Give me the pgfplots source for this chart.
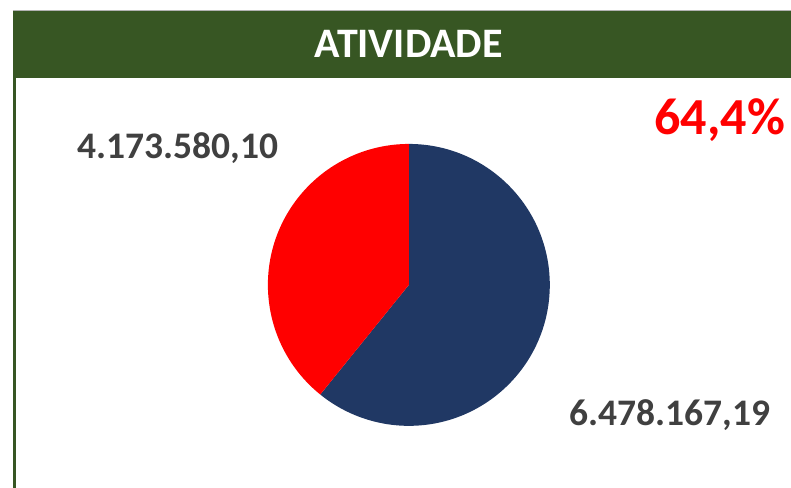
\documentclass[border=0pt]{standalone}
\usepackage{pgfplots}
\pgfplotsset{compat=1.18}
\usepackage{pgfplotstable}
\usepackage{fontspec}
\setmainfont{Carlito}

\definecolor{hdrgreen}{HTML}{375623}
\definecolor{navy}{HTML}{203864}
\definecolor{labgray}{HTML}{404040}

% Values of the two slices
\pgfplotstableread[col sep=comma]{
label,value
Outros,4173580.10
Atividade,6478167.19
}\piedata

\pgfplotstablegetelem{0}{value}\of\piedata \edef\redval{\pgfplotsretval}
\pgfplotstablegetelem{1}{value}\of\piedata \edef\navyval{\pgfplotsretval}
\edef\navyang{\fpeval{360*\navyval/(\navyval+\redval)}}
\edef\navyend{\fpeval{90-\navyang}}

\begin{document}
\begin{tikzpicture}[x=1pt,y=1pt]
  % canvas
  \fill[white] (0,0) rectangle (791,488);
  % header band
  \fill[hdrgreen] (13,410) rectangle (791,478);
  \draw[gray!60,line width=0.6pt] (13,478) -- (791,478);
  % left border
  \fill[hdrgreen] (13,0) rectangle (16,410);
  \node[text=white,font=\bfseries\fontsize{42}{48}\selectfont] at (409,444) {ATIVIDADE};

  \begin{axis}[
    at={(409pt,203pt)}, anchor=center,
    width=282pt, height=282pt, scale only axis,
    xmin=-1, xmax=1, ymin=-1, ymax=1,
    hide axis, clip=false,
  ]
    \fill[navy] (axis cs:0,0) -- (axis cs:0,1)
      arc[start angle=90, end angle=\navyend, radius=1] -- cycle;
    \fill[red] (axis cs:0,0) -- (axis cs:{cos(\navyend)},{sin(\navyend)})
      arc[start angle=\navyend, end angle=-270, radius=1] -- cycle;
  \end{axis}

  \node[text=labgray,font=\bfseries\fontsize{37.5}{44}\selectfont] at (178,340) {4.173.580,10};
  \node[text=labgray,font=\bfseries\fontsize{37.5}{44}\selectfont] at (670,73) {6.478.167,19};
  \node[text=red,font=\bfseries\fontsize{52}{60}\selectfont] at (720,368) {64,4\%};
\end{tikzpicture}
\end{document}
